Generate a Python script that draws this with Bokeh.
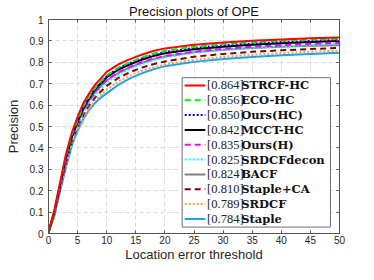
from bokeh.plotting import figure
from bokeh.models import Range1d, LinearAxis, FixedTicker
from bokeh.core.properties import value
from bokeh.embed import file_html
from bokeh.resources import INLINE

# ---------------- data ----------------
thresholds = [0, 1, 2, 3, 4, 5, 6, 7, 8, 9, 10, 12, 14, 16, 18, 20, 25, 30, 35, 40, 45, 50]

STRCF_HC = [0.005, 0.11, 0.24, 0.37, 0.47, 0.545, 0.61, 0.655, 0.695, 0.725, 0.755, 0.79, 0.815, 0.835, 0.853, 0.865, 0.882, 0.893, 0.901, 0.907, 0.912, 0.916]
ECO_HC = [0.005, 0.10, 0.23, 0.36, 0.46, 0.53, 0.595, 0.64, 0.68, 0.71, 0.738, 0.775, 0.80, 0.822, 0.84, 0.853, 0.872, 0.885, 0.894, 0.901, 0.906, 0.910]
Ours_HC = [0.005, 0.10, 0.23, 0.355, 0.455, 0.527, 0.59, 0.637, 0.677, 0.707, 0.735, 0.772, 0.797, 0.818, 0.835, 0.848, 0.867, 0.879, 0.888, 0.895, 0.900, 0.905]
MCCT_HC = [0.005, 0.10, 0.225, 0.35, 0.45, 0.522, 0.585, 0.632, 0.672, 0.702, 0.73, 0.766, 0.791, 0.812, 0.829, 0.842, 0.861, 0.873, 0.882, 0.889, 0.895, 0.900]
Ours_H = [0.005, 0.095, 0.22, 0.345, 0.445, 0.515, 0.575, 0.62, 0.66, 0.69, 0.717, 0.753, 0.779, 0.80, 0.817, 0.83, 0.85, 0.863, 0.873, 0.880, 0.886, 0.890]
SRDCFdecon = [0.005, 0.09, 0.215, 0.335, 0.435, 0.505, 0.565, 0.61, 0.648, 0.678, 0.705, 0.742, 0.77, 0.792, 0.81, 0.824, 0.845, 0.858, 0.868, 0.875, 0.881, 0.886]
BACF = [0.005, 0.10, 0.225, 0.35, 0.45, 0.518, 0.578, 0.623, 0.66, 0.69, 0.715, 0.75, 0.776, 0.797, 0.814, 0.827, 0.847, 0.859, 0.867, 0.873, 0.877, 0.880]
Staple_CA = [0.005, 0.09, 0.21, 0.33, 0.43, 0.50, 0.555, 0.60, 0.636, 0.664, 0.69, 0.727, 0.754, 0.775, 0.791, 0.804, 0.826, 0.839, 0.849, 0.856, 0.862, 0.867]
SRDCF = [0.005, 0.085, 0.205, 0.32, 0.415, 0.485, 0.54, 0.583, 0.62, 0.648, 0.672, 0.71, 0.738, 0.76, 0.776, 0.79, 0.811, 0.825, 0.835, 0.843, 0.849, 0.855]
Staple = [0.005, 0.08, 0.20, 0.31, 0.41, 0.48, 0.535, 0.578, 0.61, 0.635, 0.655, 0.695, 0.725, 0.748, 0.767, 0.782, 0.802, 0.815, 0.825, 0.833, 0.839, 0.845]

tracker_names = ["STRCF-HC", "ECO-HC", "Ours(HC)", "MCCT-HC", "Ours(H)",
                 "SRDCFdecon", "BACF", "Staple+CA", "SRDCF", "Staple"]
tracker_scores = ["[0.864]", "[0.856]", "[0.850]", "[0.842]", "[0.835]",
                  "[0.825]", "[0.824]", "[0.810]", "[0.789]", "[0.784]"]
tracker_series = [STRCF_HC, ECO_HC, Ours_HC, MCCT_HC, Ours_H,
                  SRDCFdecon, BACF, Staple_CA, SRDCF, Staple]

x_ticks = [0, 5, 10, 15, 20, 25, 30, 35, 40, 45, 50]
y_ticks = [0, 0.1, 0.2, 0.3, 0.4, 0.5, 0.6, 0.7, 0.8, 0.9, 1]

# ---------------- styles ----------------
colors = ["#ff0000", "#00ee00", "#0000ff", "#000000", "#ff00ff",
          "#00ffff", "#808080", "#800000", "#ff9a4d", "#1aa3e8"]
dashes = ["solid", "6 4", "2 2", "solid", "6 4",
          "2 2", "solid", "6 4", "2 2", "solid"]

AX = "#555555"
TXT = "#262626"

p = figure(width=358, height=264, output_backend="svg", toolbar_location=None,
           x_range=Range1d(0, 50), y_range=Range1d(0, 1),
           min_border_left=48, min_border_right=19, min_border_top=2, min_border_bottom=29,
           title="Precision plots of OPE")
p.title.align = "center"
p.title.text_font = "Liberation Sans"
p.title.text_font_size = "13px"
p.title.text_font_style = "normal"
p.title.text_color = "#111111"
p.title.standoff = 2
p.outline_line_color = AX
p.outline_line_width = 1

for ax in (p.xaxis[0], p.yaxis[0]):
    ax.axis_line_color = AX
    ax.major_tick_line_color = AX
    ax.major_tick_in = 3
    ax.major_tick_out = 0
    ax.minor_tick_line_color = None
    ax.major_label_text_font = "Liberation Sans"
    ax.major_label_text_font_size = "10px"
    ax.major_label_text_color = TXT
    ax.axis_label_text_font = "Liberation Sans"
    ax.axis_label_text_font_size = "13px"
    ax.axis_label_text_font_style = "normal"
    ax.axis_label_text_color = TXT

p.xaxis.ticker = FixedTicker(ticks=x_ticks)
p.yaxis.ticker = FixedTicker(ticks=y_ticks)
p.yaxis.major_label_overrides = {0: "0", 1: "1"}
p.xaxis.axis_label = "Location error threshold"
p.yaxis.axis_label = "Precision"
p.xaxis.major_label_standoff = 2
p.yaxis.major_label_standoff = 5
p.xaxis.axis_label_standoff = 0
p.yaxis.axis_label_standoff = 6

# mirrored ticks on top and right (box on), no labels drawn
for loc, tk in (("above", x_ticks), ("right", y_ticks)):
    ax = LinearAxis(ticker=FixedTicker(ticks=tk), axis_line_color=AX,
                    major_tick_line_color=AX, major_tick_in=3, major_tick_out=0,
                    minor_tick_line_color=None, major_label_standoff=0,
                    major_label_text_font_size="1px", major_label_text_color=None)
    p.add_layout(ax, loc)

p.xgrid.ticker = FixedTicker(ticks=x_ticks)
p.ygrid.ticker = FixedTicker(ticks=y_ticks)
p.grid.grid_line_color = "#d9d9d9"
p.grid.grid_line_dash = "4 3"
p.grid.grid_line_width = 1

# curves (best drawn last, on top)
for i in reversed(range(len(tracker_series))):
    p.line(thresholds, tracker_series[i], line_color=colors[i], line_width=2,
           line_dash=dashes[i])

# ---------------- legend (layout in data units) ----------------
LX0, LX1 = 22.97, 48.45
LY0, LY1 = 0.03, 0.728
row0, row_step = 0.692, 0.0693
samp0, samp1 = 23.4, 26.95
num_x, name_x = 27.25, 33.1

p.quad(left=[LX0], right=[LX1], bottom=[LY0], top=[LY1],
       fill_color="white", line_color="#6e6e6e", line_width=1)
for i in range(len(tracker_names)):
    yy = row0 - i * row_step
    p.line([samp0, samp1], [yy, yy], line_color=colors[i], line_width=2,
           line_dash=dashes[i])
    p.text(x=[num_x], y=[yy], text=[tracker_scores[i]], text_baseline="middle",
           text_align="left", text_font=value("Liberation Serif"),
           text_font_size="12.5px", text_color="#222222")
    p.text(x=[name_x], y=[yy], text=[tracker_names[i]], text_baseline="middle",
           text_align="left", text_font=value("DejaVu Serif"),
           text_font_size="11.5px", text_font_style="bold", text_color="#111111")

open("out.html", "w").write(file_html(p, INLINE))
